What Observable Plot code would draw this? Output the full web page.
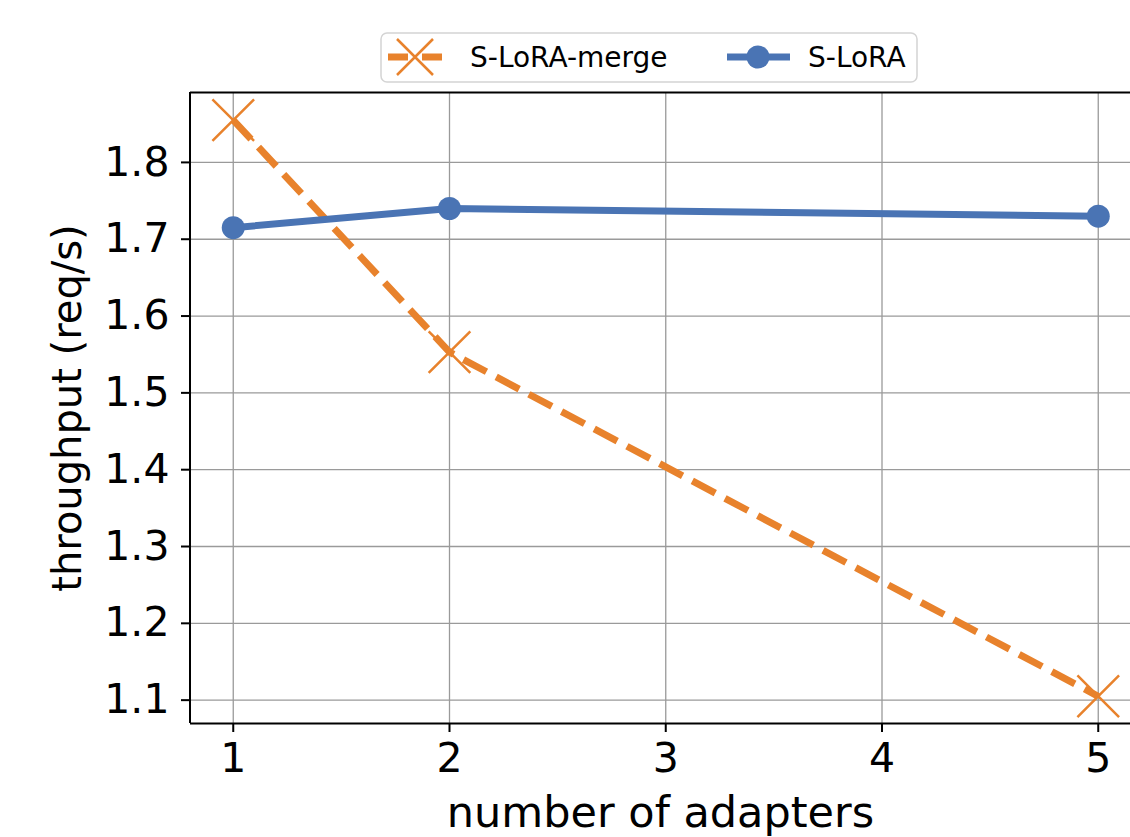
<!DOCTYPE html>
<html>
<head>
<meta charset="utf-8">
<script src="https://cdn.jsdelivr.net/npm/d3@7"></script>
<script src="https://cdn.jsdelivr.net/npm/@observablehq/plot@0.6"></script>
<style>
  html, body { margin: 0; padding: 0; background: #fff; }
  #wrap { position: relative; width: 1130px; height: 837px; overflow: hidden; font-family: "DejaVu Sans", sans-serif; }
  #legend { position: absolute; left: 380px; top: 32px; }
</style>
</head>
<body>
<div id="wrap">
  <div id="chart"></div>
  <div id="legend"></div>
</div>
<script>
// ---- data ----
const adapters = [1, 2, 5];
const mergeValues = [1.855, 1.553, 1.105];
const sloraValues = [1.715, 1.740, 1.730];
const seriesNames = ["S-LoRA-merge", "S-LoRA"];
const xTicks = [1, 2, 3, 4, 5];
const yTicks = [1.1, 1.2, 1.3, 1.4, 1.5, 1.6, 1.7, 1.8];
const xLabel = "number of adapters";
const yLabel = "throughput (req/s)";

const orange = "#e8822c";
const blue = "#4a74b4";
const xDomain = [0.8, 5.2];
const yDomain = [1.0696, 1.891];

const mergeData = adapters.map((a, i) => ({x: a, y: mergeValues[i]}));
const sloraData = adapters.map((a, i) => ({x: a, y: sloraValues[i]}));

const plot = Plot.plot({
  width: 1130,
  height: 837,
  marginLeft: 190,
  marginTop: 92,
  marginBottom: 114,
  marginRight: 0,
  style: {fontFamily: "DejaVu Sans, sans-serif", color: "#000", background: "#fff", overflow: "hidden"},
  x: {domain: xDomain, range: [189.5, 1141]},
  y: {domain: yDomain},
  marks: [
    Plot.gridY(yTicks, {stroke: "#9a9a9a", strokeOpacity: 1, strokeWidth: 1.3}),
    Plot.gridX(xTicks, {stroke: "#9a9a9a", strokeOpacity: 1, strokeWidth: 1.3}),
    Plot.line(mergeData, {x: "x", y: "y", stroke: orange, strokeWidth: 7, strokeDasharray: "26,11", strokeLinecap: "butt"}),
    Plot.dot(mergeData, {x: "x", y: "y", symbol: "times", r: 19, stroke: orange, strokeWidth: 2.5}),
    Plot.line(sloraData, {x: "x", y: "y", stroke: blue, strokeWidth: 7}),
    Plot.dot(sloraData, {x: "x", y: "y", r: 11.5, fill: blue, stroke: "none"}),
    Plot.ruleX([xDomain[0]], {stroke: "#000", strokeWidth: 2}),
    Plot.ruleY([yDomain[0]], {stroke: "#000", strokeWidth: 2}),
    Plot.ruleY([yDomain[1]], {stroke: "#000", strokeWidth: 2}),
    Plot.axisY(yTicks, {tickSize: 9, tickPadding: 12, fontSize: 41, tickFormat: d3.format(".1f"), strokeWidth: 2, label: null}),
    Plot.axisX(xTicks, {tickSize: 9, tickPadding: 10, fontSize: 41, tickFormat: d3.format("d"), strokeWidth: 2, label: null}),
    Plot.text([yLabel], {text: d => d, frameAnchor: "left", rotate: -90, dx: -122, fontSize: 40, lineAnchor: "middle", textAnchor: "middle", fill: "#000"}),
    Plot.text([xLabel], {text: d => d, frameAnchor: "bottom", dy: 90, fontSize: 43, lineAnchor: "middle", textAnchor: "middle", fill: "#000"})
  ]
});
document.getElementById("chart").appendChild(plot);

// ---- legend ----
const legend = d3.select("#legend").append("svg")
  .attr("width", 540).attr("height", 52)
  .style("font-family", "DejaVu Sans, sans-serif");
legend.append("rect").attr("x", 1).attr("y", 1).attr("width", 536).attr("height", 49)
  .attr("rx", 6).attr("fill", "#fff").attr("stroke", "#d4d4d4").attr("stroke-width", 1.5);
// entry 1
legend.append("line").attr("x1", 8).attr("x2", 62).attr("y1", 25).attr("y2", 25)
  .attr("stroke", orange).attr("stroke-width", 7).attr("stroke-dasharray", "20,14");
legend.append("path").attr("d", "M17,7L53,43M53,7L17,43").attr("stroke", orange).attr("stroke-width", 2.5).attr("fill", "none");
legend.append("text").attr("x", 90).attr("y", 35).attr("font-size", 28).text(seriesNames[0]);
// entry 2
legend.append("line").attr("x1", 347).attr("x2", 410).attr("y1", 25).attr("y2", 25)
  .attr("stroke", blue).attr("stroke-width", 7);
legend.append("circle").attr("cx", 378).attr("cy", 25).attr("r", 11.5).attr("fill", blue);
legend.append("text").attr("x", 428).attr("y", 35).attr("font-size", 28).text(seriesNames[1]);
</script>
</body>
</html>
